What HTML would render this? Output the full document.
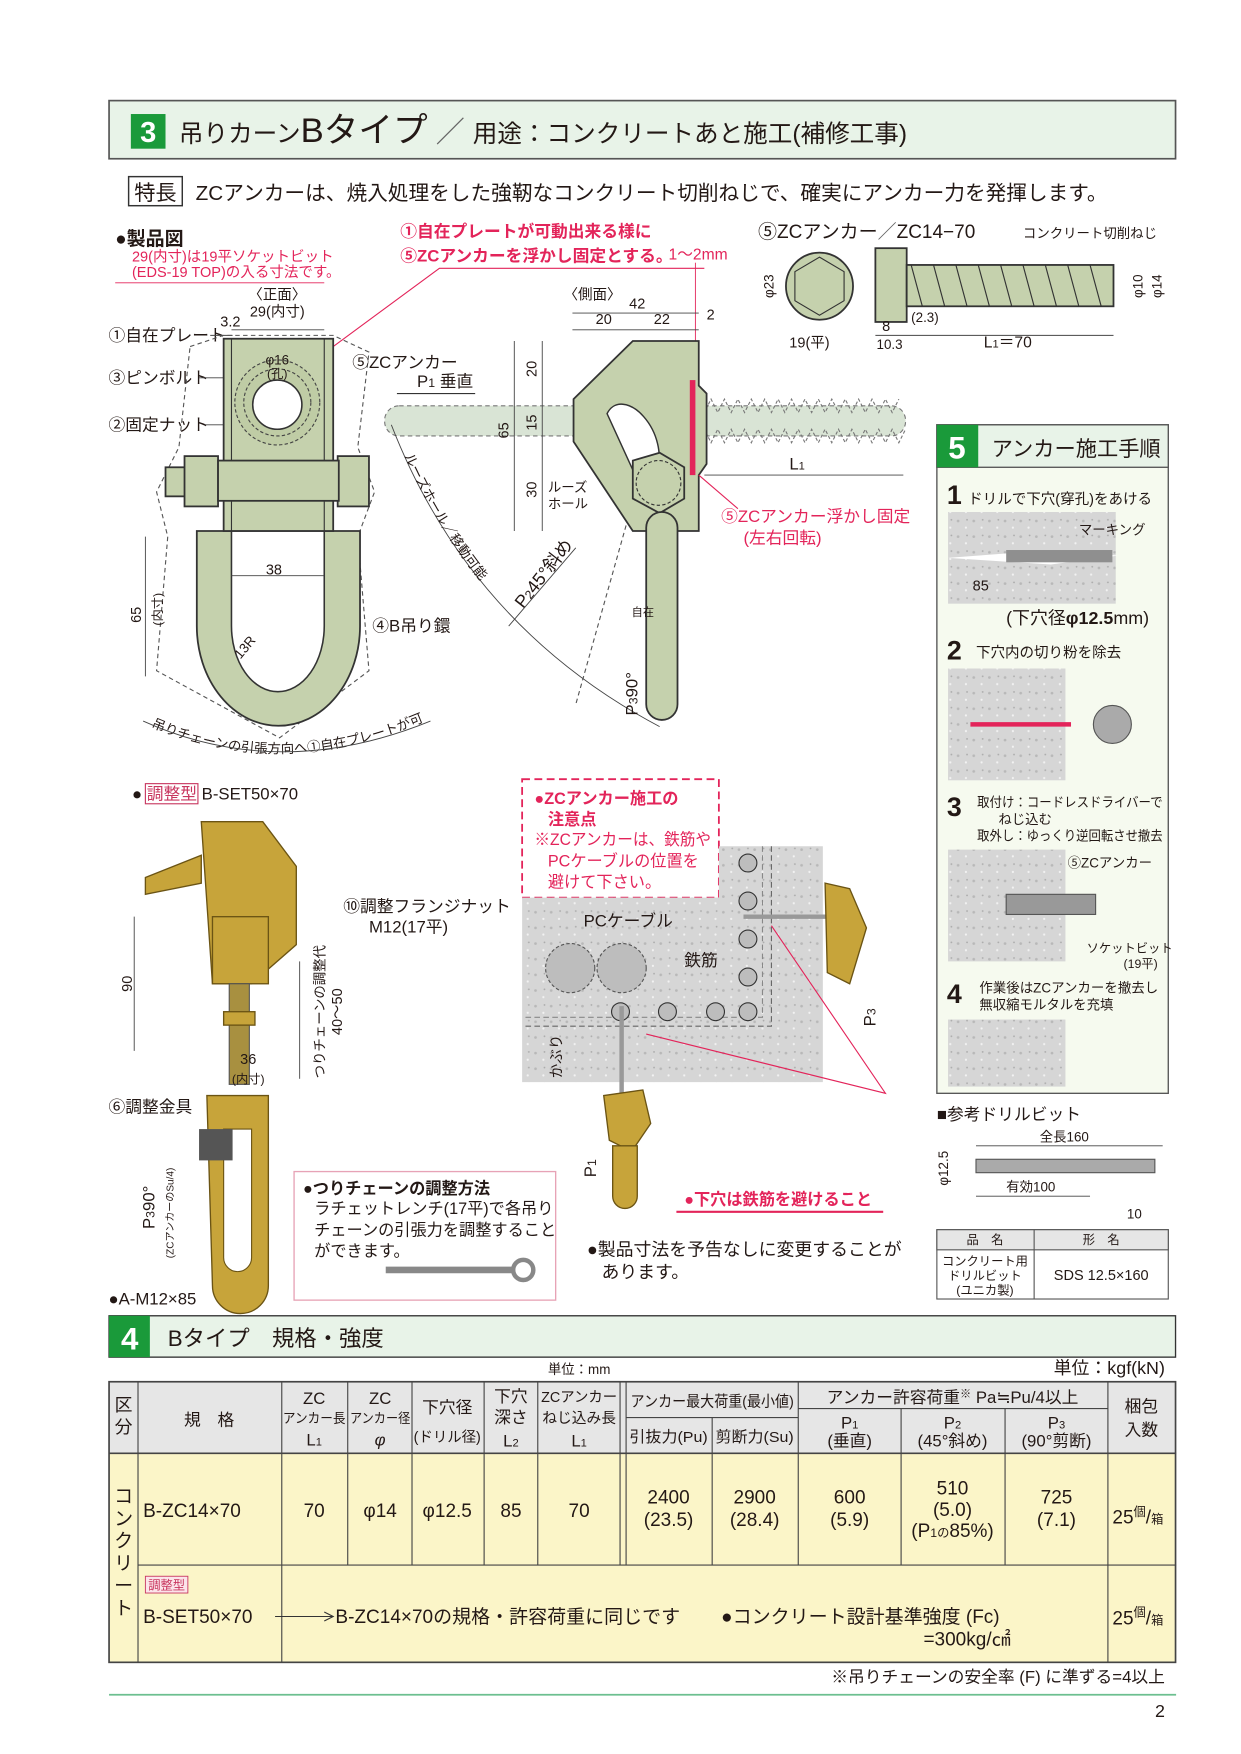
<!DOCTYPE html>
<html><head><meta charset="utf-8"><style>
html,body{margin:0;padding:0;background:#fff}
svg{display:block}
text{font-family:"Liberation Sans","Noto Sans CJK JP",sans-serif;fill:#231815}
.r{fill:#e3245a}.s{font-size:13px}.m{font-size:15px}.c{text-anchor:middle}
.g{fill:#c5d1ad;stroke:#333;stroke-width:1.6}
.d{fill:none;stroke:#444;stroke-width:0.8}
.dash{fill:none;stroke:#555;stroke-width:1;stroke-dasharray:4 3}
.au{fill:#c7a43a;stroke:#6b5414;stroke-width:1.2}
</style></head><body>
<svg width="1241" height="1754" viewBox="0 0 1110 1569" xmlns="http://www.w3.org/2000/svg">
<defs>
<pattern id="dots" width="14" height="14" patternUnits="userSpaceOnUse"><rect width="14" height="14" fill="#d6d6d6"/><circle cx="3" cy="4" r="1.2" fill="#b8b8b8"/><circle cx="10" cy="10" r="1" fill="#f2f2f2"/><circle cx="11" cy="3" r="0.8" fill="#aaa"/></pattern>
<path id="arc1" d="M350,380 Q420,560 590,650"/>
<path id="arc2" d="M135,650 Q250,700 380,645"/>
</defs>

<!-- Header 3 -->
<rect x="97.5" y="90" width="954" height="52" fill="#e8f3e8" stroke="#555" stroke-width="1.5"/>
<rect x="117" y="102" width="31" height="31" fill="#1a9a3a"/>
<text x="132.5" y="127" class="c" style="font-size:26px;font-weight:bold;fill:#fff">3</text>
<text x="160" y="127" style="font-size:22px">吊りカーン<tspan style="font-size:31px">Bタイプ</tspan><tspan style="font-size:26px;fill:#666"> ／ </tspan>用途：コンクリートあと施工(補修工事)</text>

<rect x="115" y="158" width="48" height="26" fill="#fff" stroke="#333" stroke-width="1.3"/>
<text x="139" y="179" class="c" style="font-size:19px">特長</text>
<text x="175" y="179" style="font-size:18.5px">ZCアンカーは、焼入処理をした強靭なコンクリート切削ねじで、確実にアンカー力を発揮します。</text>

<!-- Product diagram labels -->
<text x="103" y="219" style="font-size:17px;font-weight:bold">●製品図</text>
<text x="118" y="234" class="r s">29(内寸)は19平ソケットビット</text>
<text x="118" y="248" class="r s">(EDS-19 TOP)の入る寸法です。</text>
<line x1="103" y1="253" x2="290" y2="253" stroke="#e3245a" stroke-width="0.8"/>
<text x="358" y="212" class="r" style="font-size:15px;font-weight:bold">①自在プレートが可動出来る様に</text>
<text x="358" y="234" class="r" style="font-size:15px;font-weight:bold">⑤ZCアンカーを浮かし固定とする。</text>
<text x="598" y="232" class="r" style="font-size:14px">1〜2mm</text>
<polyline points="630,240 393,240 298,310" fill="none" stroke="#e3245a" stroke-width="1"/>
<line x1="622" y1="235" x2="622" y2="320" stroke="#e3245a" stroke-width="0.8"/>

<text x="248" y="268" class="c s">〈正面〉</text>
<text x="248" y="283" class="c s">29(内寸)</text>
<text x="197" y="292" class="s">3.2</text>
<line x1="207" y1="295" x2="290" y2="295" class="d"/>
<text x="97" y="305" class="m">①自在プレート</text>
<text x="97" y="343" class="m">③ピンボルト</text>
<text x="97" y="385" class="m">②固定ナット</text>
<line x1="188" y1="300" x2="208" y2="300" class="d"/><line x1="178" y1="338" x2="205" y2="338" class="d"/><line x1="183" y1="380" x2="200" y2="380" class="d"/>

<!-- front view -->
<path d="M170,310 L200,300 L298,300 L330,315 L320,400 L335,440 L320,480 L330,600 L250,660 L140,600 L150,480 L140,440 L160,400Z" class="dash"/>
<path d="M176,475 L176,560 A72,88 0 0 0 322,560 L322,475 Z" class="g"/>
<path d="M207,475 L207,560 A41,58 0 0 0 290,560 L290,475 Z" fill="#fff" stroke="#333" stroke-width="1.4"/>
<rect x="200" y="303" width="98" height="172" class="g"/>
<rect x="207" y="303" width="83" height="172" fill="none" stroke="#333" stroke-width="1"/>
<circle cx="248" cy="360" r="38" fill="#bfcca5" stroke="#444" stroke-width="1" stroke-dasharray="3 2"/>
<circle cx="248" cy="360" r="30" fill="none" stroke="#444" stroke-dasharray="3 2"/>
<circle cx="248" cy="362" r="22" fill="#fff" stroke="#333" stroke-width="1.4"/>
<text x="248" y="326" class="c" style="font-size:12px">φ16</text><text x="248" y="338" class="c" style="font-size:11px">(孔)</text>
<rect x="148" y="418" width="22" height="26" class="g"/>
<rect x="165" y="408" width="30" height="45" class="g"/>
<rect x="302" y="408" width="28" height="45" class="g"/>
<rect x="195" y="412" width="108" height="36" class="g"/>
<line x1="207" y1="515" x2="290" y2="515" class="d"/><text x="245" y="514" class="c s">38</text>
<line x1="130" y1="480" x2="130" y2="605" class="d"/>
<text transform="translate(126,550) rotate(-90)" class="c s">65</text>
<text transform="translate(145,545) rotate(-90)" class="c" style="font-size:11px">(内寸)</text>
<text transform="translate(215,590) rotate(-50)" style="font-size:12px">13R</text>
<text x="333" y="565" class="m">④B吊り鐶</text>
<text x="315" y="329" class="m">⑤ZCアンカー</text>
<text x="373" y="346" style="font-size:15px">P<tspan style="font-size:11px">1</tspan> 垂直</text>
<line x1="355" y1="352" x2="425" y2="352" stroke="#333"/>
<text style="font-size:12px"><textPath href="#arc2">吊りチェーンの引張方向へ①自在プレートが可動</textPath></text>
<path d="M128,645 Q250,700 385,645" class="d"/>

<!-- side view -->
<text x="530" y="268" class="c s">〈側面〉</text>
<text x="570" y="276" class="c s">42</text><text x="540" y="290" class="c s">20</text><text x="592" y="290" class="c s">22</text><text x="632" y="286" class="s">2</text>
<line x1="512" y1="280" x2="625" y2="280" class="d"/><line x1="512" y1="295" x2="625" y2="295" class="d"/>
<rect x="344" y="363" width="466" height="27" rx="13" fill="#d9e4d5" stroke="#777" stroke-dasharray="4 3"/>
<path d="M618,363 l6,-6 l6,12 l6,-12 l6,12 l6,-12 l6,12 l6,-12 l6,12 l6,-12 l6,12 l6,-12 l6,12 l6,-12 l6,12 l6,-12 l6,12 l6,-12 l6,12 l6,-12 l6,12 l6,-12 l6,12 l6,-12 l6,12 l6,-12 l6,12 l6,-12 l6,12 l6,-12 l6,12 l6,-12 M618,390 l6,6 l6,-12 l6,12 l6,-12 l6,12 l6,-12 l6,12 l6,-12 l6,12 l6,-12 l6,12 l6,-12 l6,12 l6,-12 l6,12 l6,-12 l6,12 l6,-12 l6,12 l6,-12 l6,12 l6,-12 l6,12 l6,-12 l6,12 l6,-12 l6,12 l6,-12 l6,12 l6,-12 l6,12 l6,-12" fill="none" stroke="#777" stroke-dasharray="3 2"/>
<path d="M566,305 L625,305 L625,345 L632,352 L632,415 L625,425 L625,475 L566,475 L513,395 L513,357Z" class="g"/>
<path d="M543,370 a12,20 -25 1 1 44,50 L575,440 Z" fill="#fff" stroke="#333" stroke-width="1.3"/>
<rect x="617" y="340" width="5" height="85" fill="#e3245a"/>
<polygon points="566,412 590,405 612,418 612,446 590,459 566,446" class="g"/>
<circle cx="589" cy="432" r="20" fill="none" stroke="#333" stroke-dasharray="3 2"/>
<rect x="578" y="458" width="28" height="186" rx="14" class="g"/>
<path d="M560,470 L515,630" class="dash"/>
<line x1="460" y1="305" x2="460" y2="475" class="d"/><line x1="485" y1="305" x2="485" y2="475" class="d"/>
<text transform="translate(455,385) rotate(-90)" class="c s">65</text>
<text transform="translate(480,330) rotate(-90)" class="c s">20</text>
<text transform="translate(480,378) rotate(-90)" class="c s">15</text>
<text transform="translate(480,438) rotate(-90)" class="c s">30</text>
<text x="490" y="440" style="font-size:12px">ルーズ</text><text x="490" y="455" style="font-size:12px">ホール</text>
<line x1="630" y1="425" x2="808" y2="425" class="d"/><text x="713" y="420" class="c m">L<tspan style="font-size:10px">1</tspan></text>
<text x="645" y="467" class="r m">⑤ZCアンカー浮かし固定</text>
<text x="665" y="486" class="r m">(左右回転)</text>
<line x1="625" y1="425" x2="660" y2="455" stroke="#e3245a"/>
<path d="M350,380 Q420,560 590,650" class="d"/>
<text style="font-size:12px"><textPath href="#arc1" startOffset="30">ルーズホール／移動可能</textPath></text>
<text transform="translate(468,545) rotate(-52)" style="font-size:16px">P<tspan style="font-size:11px">2</tspan>45°斜め</text>
<line x1="455" y1="560" x2="515" y2="490" class="d"/>
<text transform="translate(570,640) rotate(-90)" style="font-size:15px">P<tspan style="font-size:11px">3</tspan>90°</text>
<text x="565" y="551" style="font-size:10px">自在</text>

<!-- ZC anchor top right -->
<text x="678" y="213" style="font-size:17px">⑤ZCアンカー<tspan fill="#666">／</tspan>ZC14−70</text>
<text x="915" y="213" style="font-size:12px">コンクリート切削ねじ</text>
<circle cx="733" cy="256" r="30" class="g"/>
<polygon points="733,230 755,243 755,269 733,282 711,269 711,243" fill="none" stroke="#333"/>
<text transform="translate(692,256) rotate(-90)" class="c" style="font-size:12px">φ23</text>
<rect x="783" y="222" width="28" height="66" class="g"/>
<rect x="811" y="237" width="185" height="37" class="g"/>
<path d="M815,237 l10,37 M835,237 l10,37 M855,237 l10,37 M875,237 l10,37 M895,237 l10,37 M915,237 l10,37 M935,237 l10,37 M955,237 l10,37 M975,237 l10,37" stroke="#333" fill="none"/>
<text x="706" y="311" style="font-size:13px">19(平)</text>
<text x="789" y="296" style="font-size:13px">8</text><text x="784" y="312" style="font-size:12px">10.3</text>
<text x="815" y="288" style="font-size:12px">(2.3)</text>
<text x="880" y="311" style="font-size:14px">L<tspan style="font-size:10px">1</tspan>＝70</text>
<line x1="783" y1="300" x2="996" y2="300" class="d"/>
<text transform="translate(1022,256) rotate(-90)" class="c" style="font-size:12px">φ10</text>
<text transform="translate(1039,256) rotate(-90)" class="c" style="font-size:12px">φ14</text>

<!-- Section 5 -->
<rect x="838" y="380" width="207" height="598" fill="#f6faef" stroke="#555" stroke-width="1.2"/>
<rect x="838" y="380" width="207" height="38" fill="#e8f3e8" stroke="#555" stroke-width="1.2"/>
<rect x="838" y="380" width="37" height="38" fill="#1a9a3a"/>
<text x="856" y="410" class="c" style="font-size:28px;font-weight:bold;fill:#fff">5</text>
<text x="887" y="408" style="font-size:19px">アンカー施工手順</text>
<text x="847" y="451" style="font-size:24px;font-weight:bold">1</text><text x="866" y="451" class="s">ドリルで下穴(穿孔)をあける</text>
<rect x="848" y="458" width="150" height="82" fill="url(#dots)"/>
<path d="M848,499 L940,492 L1000,497 L940,505Z" fill="#fff"/>
<rect x="900" y="492" width="95" height="11" fill="#8f8f8f"/>
<text x="965" y="478" style="font-size:12px">マーキング</text>
<text x="870" y="528" class="s">85</text>
<text x="900" y="558" style="font-size:16px">(下穴径<tspan font-weight="bold">φ12.5</tspan>mm)</text>
<text x="847" y="590" style="font-size:24px;font-weight:bold">2</text><text x="873" y="588" class="s">下穴内の切り粉を除去</text>
<rect x="848" y="598" width="105" height="100" fill="url(#dots)"/>
<path d="M868,648 L958,648" stroke="#e3245a" stroke-width="4"/>
<circle cx="995" cy="648" r="17" fill="#aaa" stroke="#555"/>
<text x="847" y="730" style="font-size:24px;font-weight:bold">3</text>
<text x="874" y="722" style="font-size:12px" textLength="166" lengthAdjust="spacingAndGlyphs">取付け：コードレスドライバーで</text>
<text x="893" y="737" style="font-size:12px">ねじ込む</text>
<text x="874" y="752" style="font-size:12px" textLength="166" lengthAdjust="spacingAndGlyphs">取外し：ゆっくり逆回転させ撤去</text>
<rect x="848" y="760" width="105" height="100" fill="url(#dots)"/>
<rect x="900" y="800" width="80" height="18" fill="#999" stroke="#555"/>
<text x="955" y="776" style="font-size:12px">⑤ZCアンカー</text>
<text x="972" y="852" style="font-size:11px">ソケットビット</text><text x="1005" y="866" style="font-size:11px">(19平)</text>
<text x="847" y="897" style="font-size:24px;font-weight:bold">4</text>
<text x="876" y="888" style="font-size:12px" textLength="160" lengthAdjust="spacingAndGlyphs">作業後はZCアンカーを撤去し</text>
<text x="876" y="903" style="font-size:12px">無収縮モルタルを充填</text>
<rect x="848" y="912" width="105" height="60" fill="url(#dots)"/>

<text x="838" y="1002" style="font-size:15px">■参考ドリルビット</text>
<text x="930" y="1021" style="font-size:12px">全長160</text>
<line x1="873" y1="1025" x2="1040" y2="1025" class="d"/>
<rect x="873" y="1037" width="160" height="12" fill="#aaa" stroke="#555"/>
<text transform="translate(848,1045) rotate(-90)" class="c" style="font-size:12px">φ12.5</text>
<text x="900" y="1066" style="font-size:12px">有効100</text>
<line x1="873" y1="1070" x2="975" y2="1070" class="d"/>
<text x="1008" y="1090" style="font-size:12px">10</text>
<rect x="838" y="1100" width="207" height="62" fill="#fff" stroke="#555"/>
<rect x="838" y="1100" width="207" height="18" fill="#e6e6e6" stroke="#555"/>
<line x1="925" y1="1100" x2="925" y2="1162" stroke="#555"/>
<text x="881" y="1113" class="c" style="font-size:11px">品　名</text><text x="985" y="1113" class="c" style="font-size:11px">形　名</text>
<text x="881" y="1132" class="c" style="font-size:11px">コンクリート用</text><text x="881" y="1145" class="c" style="font-size:11px">ドリルビット</text><text x="881" y="1158" class="c" style="font-size:11px">(ユニカ製)</text>
<text x="985" y="1145" class="c" style="font-size:13px">SDS 12.5×160</text>

<!-- 調整型 -->
<text x="118" y="715" style="font-size:15px">● <tspan fill="#c8365f">調整型</tspan> B-SET50×70</text>
<rect x="130" y="701" width="47" height="18" fill="none" stroke="#c8365f"/>
<polygon points="180,735 235,735 265,775 265,845 225,880 190,880" class="au"/>
<path d="M130,785 l50,-20 l0,25 l-50,10Z" class="au"/>
<rect x="190" y="820" width="50" height="60" class="au"/>
<rect x="205" y="880" width="18" height="90" fill="#a89040" stroke="#555"/>
<rect x="200" y="905" width="28" height="12" class="au"/>
<path d="M185,980 L240,980 L240,1150 A25,25 0 0 1 190,1150 Z" class="au"/>
<path d="M200,1010 L225,1010 L225,1125 A12,12 0 0 1 200,1125 Z" fill="#fff" stroke="#6b5414"/>
<rect x="178" y="1010" width="30" height="28" fill="#555"/>
<line x1="120" y1="820" x2="120" y2="940" class="d"/>
<text transform="translate(118,880) rotate(-90)" class="c s">90</text>
<text x="222" y="952" class="c s">36</text><text x="222" y="969" class="c" style="font-size:11px">(内寸)</text>
<text x="307" y="816" class="m">⑩調整フランジナット</text><text x="330" y="834" class="m">M12(17平)</text>
<line x1="268" y1="860" x2="268" y2="965" class="d"/>
<text transform="translate(290,905) rotate(-90)" class="c" style="font-size:12px">つりチェーンの調整代</text>
<text transform="translate(306,905) rotate(-90)" class="c s">40〜50</text>
<text x="97" y="995" class="m">⑥調整金具</text>
<text transform="translate(138,1080) rotate(-90)" class="c m">P<tspan style="font-size:11px">3</tspan>90°</text>
<text transform="translate(155,1085) rotate(-90)" class="c" style="font-size:9px">(ZCアンカーのSu/4)</text>
<text x="97" y="1167" class="m">●A-M12×85</text>
<rect x="263" y="1048" width="234" height="115" fill="#fff" stroke="#e7a3b6" stroke-width="1.2"/>
<text x="271" y="1068" style="font-size:14.5px;font-weight:bold">●つりチェーンの調整方法</text>
<text x="281" y="1086" style="font-size:14.5px">ラチェットレンチ(17平)で各吊り</text>
<text x="281" y="1105" style="font-size:14.5px">チェーンの引張力を調整すること</text>
<text x="281" y="1124" style="font-size:14.5px">ができます。</text>
<path d="M345,1136 L460,1136" stroke="#888" stroke-width="6"/>
<circle cx="468" cy="1136" r="9" fill="none" stroke="#888" stroke-width="4"/>

<!-- caution & concrete -->
<rect x="467" y="697" width="176" height="106" fill="#fff" stroke="#e3245a" stroke-width="1.6" stroke-dasharray="7 4"/>
<text x="478" y="719" class="r" style="font-size:14.5px;font-weight:bold">●ZCアンカー施工の</text>
<text x="490" y="738" class="r" style="font-size:14.5px;font-weight:bold">注意点</text>
<text x="478" y="756" class="r" style="font-size:14.5px" textLength="158" lengthAdjust="spacingAndGlyphs">※ZCアンカーは、鉄筋や</text>
<text x="490" y="775" class="r" style="font-size:14.5px">PCケーブルの位置を</text>
<text x="490" y="794" class="r" style="font-size:14.5px">避けて下さい。</text>
<path d="M643,757 L736,757 L736,968 L467,968 L467,803 L643,803Z" fill="url(#dots)"/>
<path d="M690,757 L690,918 L467,918" fill="none" stroke="#666" stroke-dasharray="5 3"/>
<path d="M682,757 L682,910 L467,910" fill="none" stroke="#888" stroke-dasharray="5 3"/>
<circle cx="510" cy="866" r="22" fill="#bdbdbd" stroke="#555" stroke-dasharray="3 2"/>
<circle cx="556" cy="866" r="22" fill="#bdbdbd" stroke="#555" stroke-dasharray="3 2"/>
<g fill="#bdbdbd" stroke="#333"><circle cx="669" cy="772" r="8"/><circle cx="669" cy="806" r="8"/><circle cx="669" cy="840" r="8"/><circle cx="669" cy="874" r="8"/><circle cx="669" cy="905" r="8"/><circle cx="555" cy="905" r="8"/><circle cx="597" cy="905" r="8"/><circle cx="640" cy="905" r="8"/></g>
<text x="522" y="829" class="m">PCケーブル</text>
<text x="612" y="864" class="m">鉄筋</text>
<text transform="translate(502,945) rotate(-90)" class="c s">かぶり</text>
<line x1="665" y1="820" x2="740" y2="820" stroke="#999" stroke-width="4"/>
<polygon points="738,790 760,795 775,830 760,880 740,870" class="au"/>
<line x1="556" y1="900" x2="556" y2="985" stroke="#999" stroke-width="4"/>
<polygon points="540,980 575,975 582,1005 565,1030 545,1020" class="au"/>
<path d="M548,1025 L570,1025 L570,1070 A11,11 0 0 1 548,1070Z" class="au"/>
<text transform="translate(783,910) rotate(-90)" class="c m">P<tspan style="font-size:11px">3</tspan></text>
<text transform="translate(533,1045) rotate(-90)" class="c m">P<tspan style="font-size:11px">1</tspan></text>
<polyline points="690,828 792,978 578,925" fill="none" stroke="#e3245a"/>
<text x="612" y="1078" class="r" style="font-size:14.5px;font-weight:bold">●下穴は鉄筋を避けること</text>
<line x1="605" y1="1084" x2="790" y2="1084" stroke="#e3245a" stroke-width="2"/>
<text x="525" y="1123" style="font-size:16px">●製品寸法を予告なしに変更することが</text>
<text x="538" y="1143" style="font-size:16px">あります。</text>

<!-- Section 4 -->
<rect x="97.5" y="1177" width="954" height="37" fill="#e8f3e8" stroke="#333" stroke-width="1.2"/>
<rect x="97.5" y="1177" width="36.5" height="37" fill="#1a9a3a"/>
<text x="116" y="1207" class="c" style="font-size:28px;font-weight:bold;fill:#fff">4</text>
<text x="150" y="1204" style="font-size:20px">Bタイプ　規格・強度</text>
<text x="490" y="1229" style="font-size:12px">単位：mm</text>
<text x="1042" y="1229" style="font-size:16px;text-anchor:end">単位：kgf(kN)</text>

<rect x="97.5" y="1236" width="954" height="64" fill="#e6e6e6"/>
<rect x="97.5" y="1300" width="954" height="187" fill="#fbf5c8"/>
<g stroke="#444" stroke-width="1" fill="none">
<rect x="97.5" y="1236" width="954" height="251" stroke-width="1.5"/>
<line x1="97.5" y1="1300" x2="1052" y2="1300" stroke-width="1.5"/>
<line x1="123.4" y1="1400" x2="1052" y2="1400"/>
<line x1="123.4" y1="1236" x2="123.4" y2="1487"/>
<line x1="252" y1="1236" x2="252" y2="1487"/>
<line x1="311" y1="1236" x2="311" y2="1400"/>
<line x1="368.5" y1="1236" x2="368.5" y2="1400"/>
<line x1="433" y1="1236" x2="433" y2="1400"/>
<line x1="481" y1="1236" x2="481" y2="1400"/>
<line x1="554.6" y1="1236" x2="554.6" y2="1400"/>
<line x1="560" y1="1236" x2="560" y2="1400"/>
<line x1="637" y1="1268" x2="637" y2="1400"/>
<line x1="714" y1="1236" x2="714" y2="1400"/>
<line x1="806" y1="1260" x2="806" y2="1400"/>
<line x1="899" y1="1260" x2="899" y2="1400"/>
<line x1="991" y1="1236" x2="991" y2="1487"/>
<line x1="560" y1="1268" x2="714" y2="1268"/>
<line x1="714" y1="1260" x2="991" y2="1260"/>
</g>
<g style="font-size:15px" class="c">
<text x="110.5" y="1262" class="c" style="font-size:16px">区</text><text x="110.5" y="1282" class="c" style="font-size:16px">分</text>
<text x="187" y="1275" class="c">規　格</text>
<text x="281" y="1256" class="c">ZC</text><text x="281" y="1273" class="c" style="font-size:12px" textLength="56" lengthAdjust="spacingAndGlyphs">アンカー長</text><text x="281" y="1293" class="c">L<tspan style="font-size:10px">1</tspan></text>
<text x="340" y="1256" class="c">ZC</text><text x="340" y="1273" class="c" style="font-size:12px" textLength="54" lengthAdjust="spacingAndGlyphs">アンカー径</text><text x="340" y="1293" class="c" style="font-style:italic">φ</text>
<text x="400" y="1264" class="c">下穴径</text><text x="400" y="1290" class="c" style="font-size:13px" textLength="60" lengthAdjust="spacingAndGlyphs">(ドリル径)</text>
<text x="457" y="1254" class="c">下穴</text><text x="457" y="1273" class="c">深さ</text><text x="457" y="1294" class="c">L<tspan style="font-size:10px">2</tspan></text>
<text x="518" y="1254" class="c" style="font-size:13px" textLength="68" lengthAdjust="spacingAndGlyphs">ZCアンカー</text><text x="518" y="1273" class="c" style="font-size:13px" textLength="66" lengthAdjust="spacingAndGlyphs">ねじ込み長</text><text x="518" y="1294" class="c">L<tspan style="font-size:10px">1</tspan></text>
<text x="637" y="1258" class="c" style="font-size:13.5px" textLength="146" lengthAdjust="spacingAndGlyphs">アンカー最大荷重(最小値)</text>
<text x="598" y="1290" class="c" style="font-size:13.5px" textLength="70" lengthAdjust="spacingAndGlyphs">引抜力(Pu)</text><text x="675" y="1290" class="c" style="font-size:13.5px" textLength="70" lengthAdjust="spacingAndGlyphs">剪断力(Su)</text>
<text x="852" y="1255" class="c" style="font-size:15px">アンカー許容荷重<tspan style="font-size:10px" dy="-5">※</tspan><tspan dy="5"> Pa≒Pu/4以上</tspan></text>
<text x="760" y="1278" class="c">P<tspan style="font-size:10px">1</tspan></text><text x="760" y="1294" class="c">(垂直)</text>
<text x="852" y="1278" class="c">P<tspan style="font-size:10px">2</tspan></text><text x="852" y="1294" class="c">(45°斜め)</text>
<text x="945" y="1278" class="c">P<tspan style="font-size:10px">3</tspan></text><text x="945" y="1294" class="c">(90°剪断)</text>
<text x="1021" y="1263" class="c">梱包</text><text x="1021" y="1284" class="c">入数</text>
</g>
<g style="font-size:17px">
<text x="110.5" y="1344" class="c">コ</text><text x="110.5" y="1364" class="c">ン</text><text x="110.5" y="1384" class="c">ク</text><text x="110.5" y="1404" class="c">リ</text><text x="110.5" y="1424" class="c">ー</text><text x="110.5" y="1444" class="c">ト</text>
<text x="128" y="1357">B-ZC14×70</text>
<text x="281" y="1357" class="c">70</text><text x="340" y="1357" class="c">φ14</text><text x="400" y="1357" class="c">φ12.5</text><text x="457" y="1357" class="c">85</text><text x="518" y="1357" class="c">70</text>
<text x="598" y="1345" class="c">2400</text><text x="598" y="1365" class="c">(23.5)</text>
<text x="675" y="1345" class="c">2900</text><text x="675" y="1365" class="c">(28.4)</text>
<text x="760" y="1345" class="c">600</text><text x="760" y="1365" class="c">(5.9)</text>
<text x="852" y="1337" class="c">510</text><text x="852" y="1356" class="c">(5.0)</text><text x="852" y="1375" class="c">(P<tspan style="font-size:11px">1の</tspan>85%)</text>
<text x="945" y="1345" class="c">725</text><text x="945" y="1365" class="c">(7.1)</text>
<text x="995" y="1363">25<tspan style="font-size:11px" dy="-7">個</tspan><tspan dy="7">/</tspan><tspan style="font-size:11px">箱</tspan></text>
<rect x="130" y="1410" width="38" height="15" fill="#fce4ea" stroke="#c8365f" stroke-width="0.8"/>
<text x="149" y="1422" class="c" style="font-size:11px;fill:#c8365f">調整型</text>
<text x="128" y="1452">B-SET50×70</text>
<text x="300" y="1452">B-ZC14×70の規格・許容荷重に同じです</text>
<text x="645" y="1452">●コンクリート設計基準強度 (Fc)</text>
<text x="826" y="1472">=300kg/㎠</text>
<text x="995" y="1453">25<tspan style="font-size:11px" dy="-7">個</tspan><tspan dy="7">/</tspan><tspan style="font-size:11px">箱</tspan></text>
</g>
<line x1="246" y1="1446" x2="298" y2="1446" stroke="#333"/><polyline points="290,1442 298,1446 290,1450" fill="none" stroke="#333"/>

<text x="1042" y="1505" style="font-size:15px;text-anchor:end">※吊りチェーンの安全率 (F) に準ずる=4以上</text>
<line x1="97.5" y1="1516" x2="1052" y2="1516" stroke="#6cbf8f" stroke-width="1.5"/>
<text x="1042" y="1536" style="font-size:16px;text-anchor:end">2</text>
</svg>
</body></html>
